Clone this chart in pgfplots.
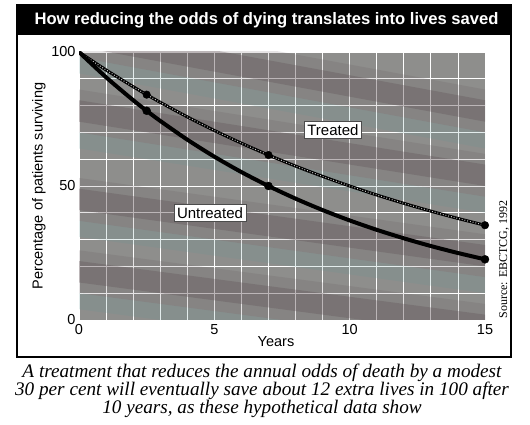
\documentclass[border=0pt]{standalone}
\usepackage{fontspec}
\setmainfont{Liberation Sans}
\newfontfamily\seriffont{Liberation Serif}
\usepackage{pgfplots}
\pgfplotsset{compat=1.18}
\definecolor{bggray}{RGB}{142,142,140}
\definecolor{bandbrown}{RGB}{92,78,82}
\definecolor{bandteal}{RGB}{100,150,150}

\pgfplotstableread{
t    s
0    100
1    90.57
2    82.03
2.5  78.07
3    74.30
4    67.30
5    60.95
6    55.20
7    50.00
8    45.29
9    41.02
10   37.15
11   33.65
12   30.48
13   27.60
14   25.00
15   22.64
}\untreated

\pgfplotstableread{
t    s
0    100
1    93.30
2    87.06
2.5  84.09
3    81.23
4    75.79
5    70.71
6    65.98
7    61.56
8    57.43
9    53.59
10   50.00
11   46.65
12   43.53
13   40.61
14   37.89
15   35.36
}\treated

\pgfplotstableread{
t    s
2.5  78.07
7    50.00
15   22.64
}\untreatedmarks

\pgfplotstableread{
t    s
2.5  84.09
7    61.56
15   35.36
}\treatedmarks

\begin{document}
\begin{tikzpicture}[x=1pt,y=1pt]
\useasboundingbox (0,0) rectangle (530,425);
\fill[white] (0,0) rectangle (530,425);
% title bar
\fill[black] (17,390) rectangle (511,420);
\node[white, font=\bfseries\fontsize{16.6}{18}\selectfont] at (266.5,405) {How reducing the odds of dying translates into lives saved};

\begin{axis}[
  at={(79pt,105pt)}, anchor=south west,
  width=406pt, height=268pt, scale only axis,
  xmin=0, xmax=15, ymin=0, ymax=100,
  xtick={0,5,10,15}, minor xtick={1,2,3,4,6,7,8,9,11,12,13,14},
  ytick={0,50,100}, minor ytick={10,20,30,40,60,70,80,90},
  grid=both,
  major grid style={white, line width=0.8pt},
  minor grid style={white, line width=0.8pt},
  major tick length=0pt, minor tick length=0pt,
  axis line style={draw=none},
  axis background/.style={fill=bggray},
  /pgf/number format/assume math mode=true,
  tick label style={font=\fontsize{14.5}{14.5}\selectfont},
  xticklabel style={yshift=-1pt},
  clip=true,
]
% decorative diagonal bands (soft outer layer)
\addplot[draw=none, fill=bandbrown, fill opacity=0.15] coordinates {(0,114) (15,86) (15,70) (0,98)} -- cycle;
\addplot[draw=none, fill=bandbrown, fill opacity=0.15] coordinates {(0,86) (15,62) (15,46) (0,70)} -- cycle;
\addplot[draw=none, fill=bandbrown, fill opacity=0.15] coordinates {(0,53) (15,32) (15,16) (0,37)} -- cycle;
\addplot[draw=none, fill=bandbrown, fill opacity=0.15] coordinates {(0,26) (15,6) (15,-10) (0,10)} -- cycle;
% dark cores
\addplot[draw=none, fill=bandbrown, fill opacity=0.3] coordinates {(0,110) (15,82) (15,74) (0,102)} -- cycle;
\addplot[draw=none, fill=bandbrown, fill opacity=0.3] coordinates {(0,82) (15,58) (15,50) (0,74)} -- cycle;
\addplot[draw=none, fill=bandbrown, fill opacity=0.3] coordinates {(0,49) (15,28) (15,20) (0,41)} -- cycle;
\addplot[draw=none, fill=bandbrown, fill opacity=0.3] coordinates {(0,22) (15,2) (15,-6) (0,14)} -- cycle;
% teal fringes
\addplot[draw=none, fill=bandteal, fill opacity=0.18] coordinates {(0,98) (15,70) (15,64) (0,92)} -- cycle;
\addplot[draw=none, fill=bandteal, fill opacity=0.18] coordinates {(0,70) (15,46) (15,40) (0,64)} -- cycle;
\addplot[draw=none, fill=bandteal, fill opacity=0.18] coordinates {(0,37) (15,16) (15,10) (0,31)} -- cycle;
\addplot[draw=none, fill=bandteal, fill opacity=0.18] coordinates {(0,10) (15,-10) (15,-16) (0,4)} -- cycle;

% treated
\addplot[black, line width=3pt, smooth] table[x=t,y=s] {\treated};
\addplot[gray!40, line width=1.1pt, dash pattern=on 0.8pt off 2pt, smooth] table[x=t,y=s] {\treated};
\addplot[only marks, mark=*, mark size=3.8pt, black] table[x=t,y=s] {\treatedmarks};
% untreated
\addplot[black, line width=4pt, smooth] table[x=t,y=s] {\untreated};
\addplot[only marks, mark=*, mark size=4pt, black] table[x=t,y=s] {\untreatedmarks};

\node[fill=white, draw=black!70, line width=0.4pt, inner sep=3pt, font=\fontsize{15}{15}\selectfont] at (axis cs:9.38,70.9) {Treated};
\node[fill=white, draw=black!70, line width=0.4pt, inner sep=3pt, font=\fontsize{15}{15}\selectfont] at (axis cs:4.84,39.9) {Untreated};
\end{axis}

% axis titles
\node[font=\fontsize{14.5}{14.5}\selectfont] at (276,83) {Years};
\node[rotate=90, font=\fontsize{14.5}{14.5}\selectfont] at (39,239) {Percentage of patients surviving};
\node[rotate=90, anchor=west, font=\seriffont\fontsize{12}{12}\selectfont] at (504,103) {Source: EBCTCG, 1992};

% frame
\draw[line width=2.6pt] (17,68) rectangle (511,420);

% caption
\node[font=\seriffont\itshape\fontsize{19.2}{20}\selectfont] at (262,52) {A treatment that reduces the annual odds of death by a modest};
\node[font=\seriffont\itshape\fontsize{19.2}{20}\selectfont] at (262,34) {30 per cent will eventually save about 12 extra lives in 100 after};
\node[font=\seriffont\itshape\fontsize{19.2}{20}\selectfont] at (262,16) {10 years, as these hypothetical data show};
\end{tikzpicture}
\end{document}
